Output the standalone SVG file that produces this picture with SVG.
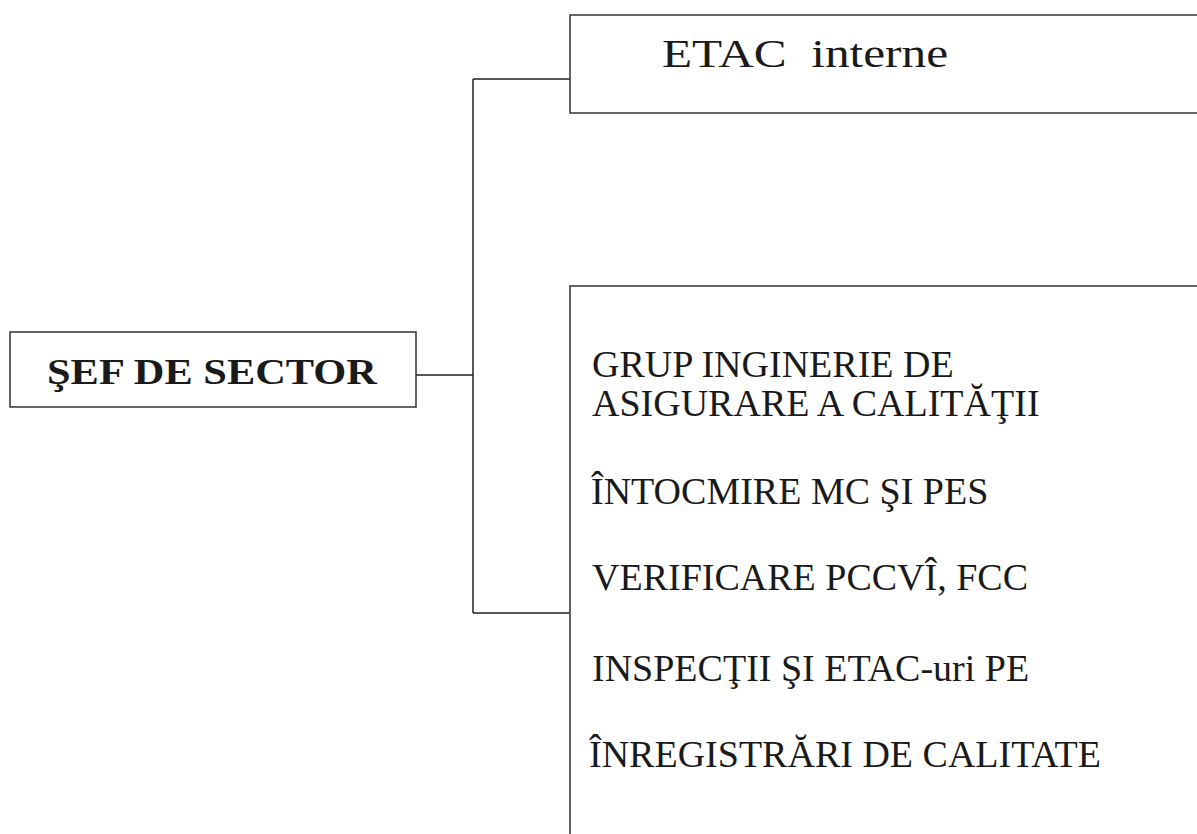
<svg xmlns="http://www.w3.org/2000/svg" width="1197" height="834" viewBox="0 0 1197 834">
<style>
.ln{stroke:#222;stroke-width:1.5;fill:none}
.bx{stroke:#333;stroke-width:1.5;fill:none}
.t{font-family:"Liberation Serif","Times New Roman",serif;font-size:38px;fill:#1a1a1a}
.tb{font-family:"Liberation Serif","Times New Roman",serif;font-size:36px;font-weight:bold;fill:#1a1a1a}
</style>
<rect width="1197" height="834" fill="#fff"/>
<g id="connectors">
<path class="ln" d="M416 375 H473 M473 79 V613 M473 79 H570 M473 613 H570"/>
</g>
<g id="sef">
<rect class="bx" x="10" y="332" width="406" height="75" stroke="#666"/>
<text class="tb" x="47" y="384" textLength="330" lengthAdjust="spacingAndGlyphs">ŞEF DE SECTOR</text>
</g>
<g id="etac">
<path class="bx" d="M1197 15 H570 V113 H1197"/>
<text class="t" style="font-size:40px" x="662" y="67" textLength="286" lengthAdjust="spacingAndGlyphs" xml:space="preserve">ETAC  interne</text>
</g>
<g id="grup">
<path class="bx" d="M1197 286 H570 V834"/>
<text class="t" x="592" y="377">GRUP INGINERIE DE</text>
<text class="t" x="592" y="416">ASIGURARE A CALITĂŢII</text>
<text class="t" x="591" y="504">ÎNTOCMIRE MC ŞI PES</text>
<text class="t" x="592" y="590">VERIFICARE PCCVÎ, FCC</text>
<text class="t" x="592" y="681">INSPECŢII ŞI ETAC-uri PE</text>
<text class="t" x="589" y="767">ÎNREGISTRĂRI DE CALITATE</text>
</g>
</svg>
